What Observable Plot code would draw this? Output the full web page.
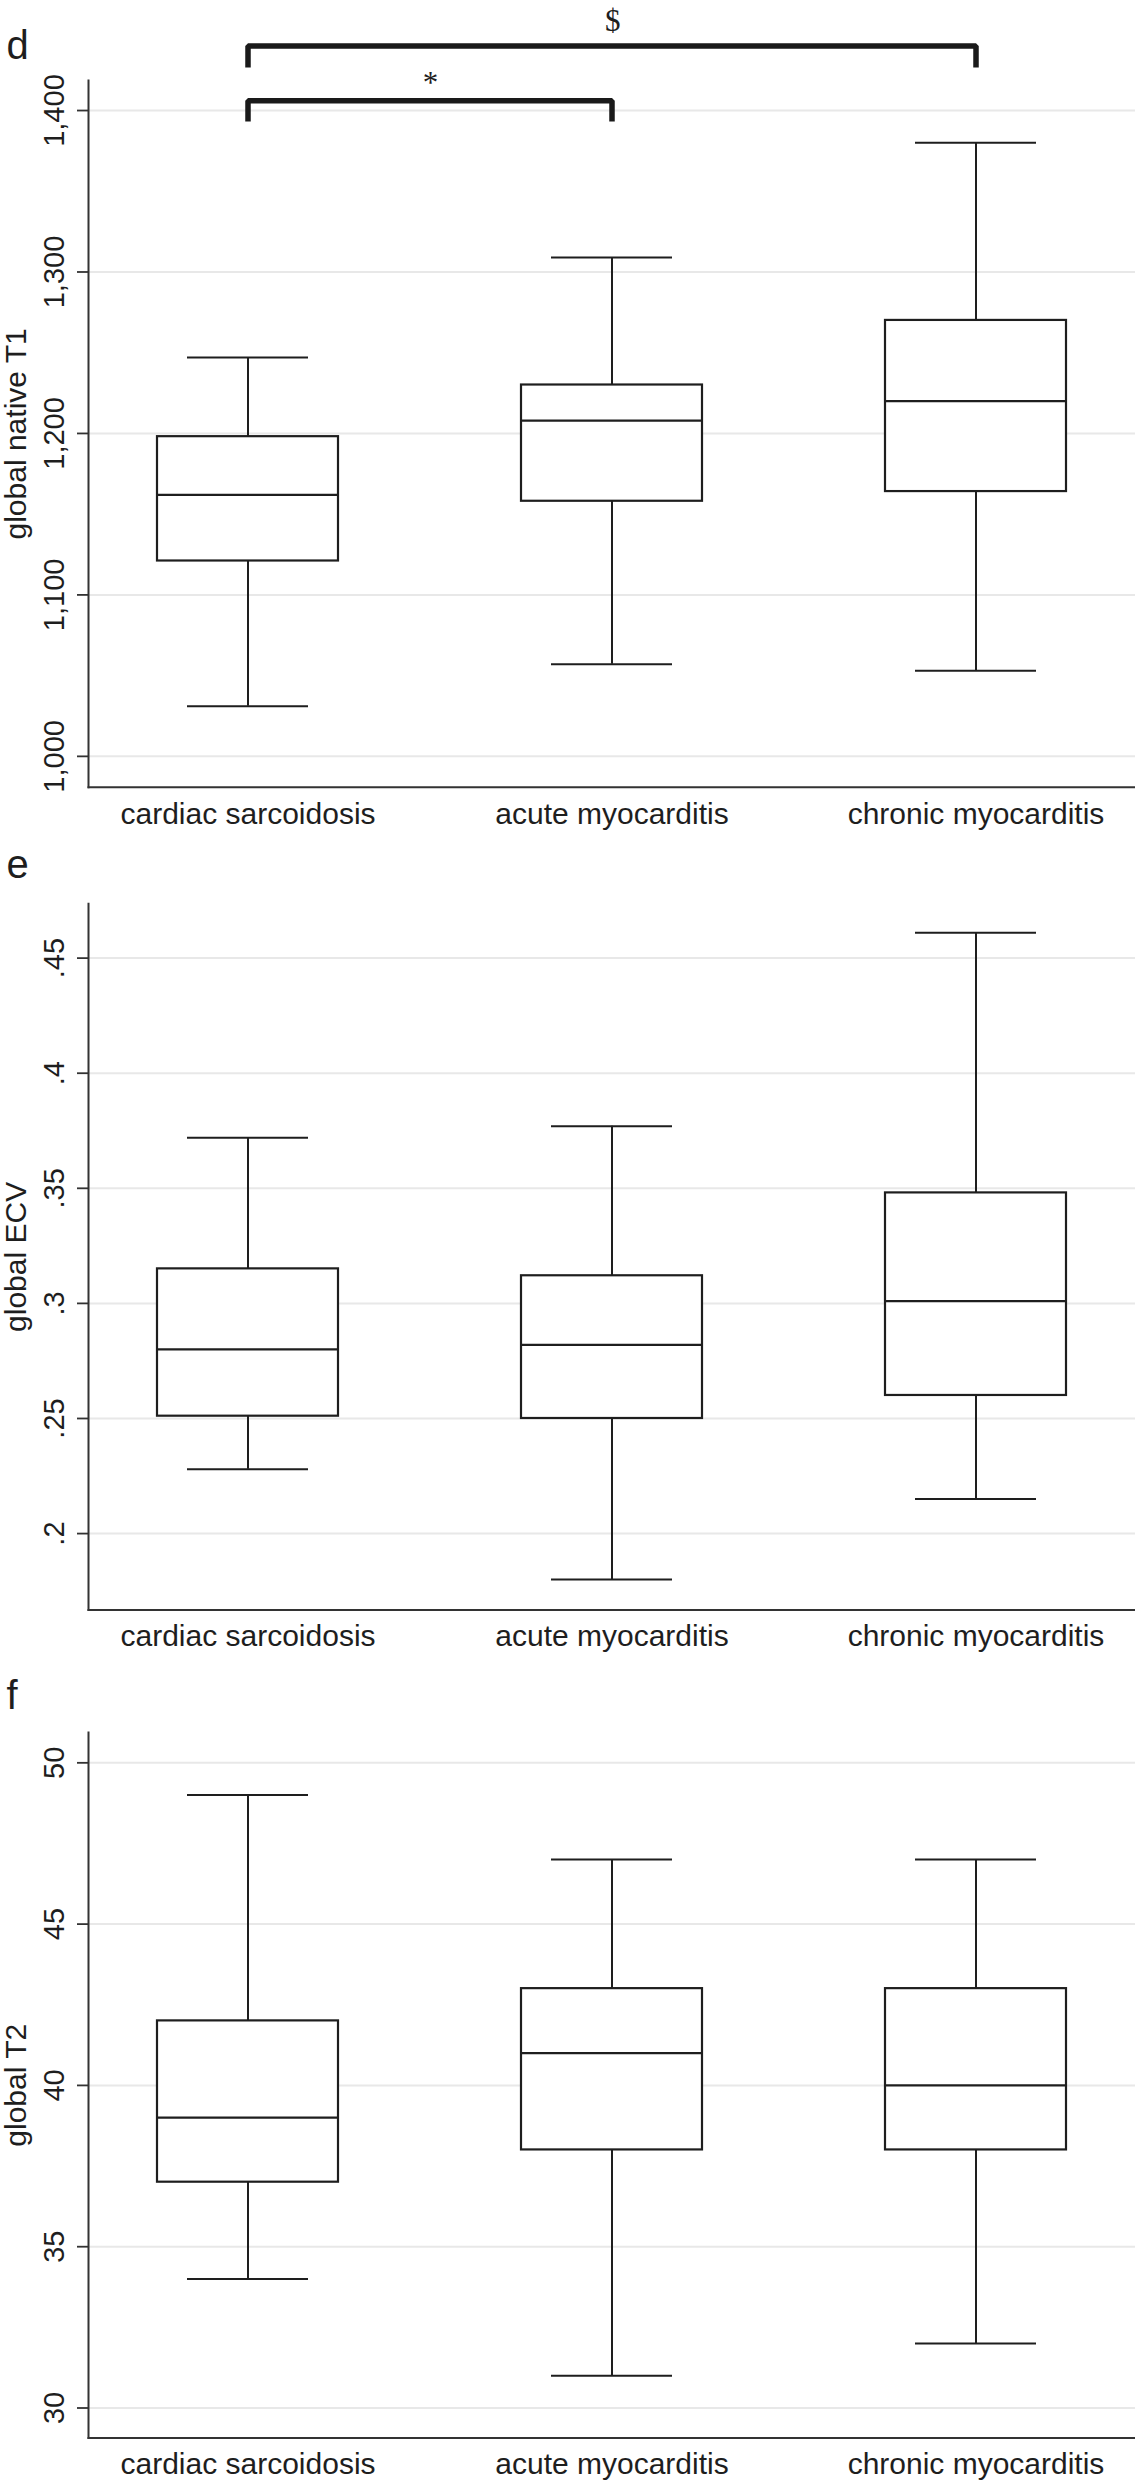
<!DOCTYPE html>
<html>
<head>
<meta charset="utf-8">
<script src="https://cdn.jsdelivr.net/npm/d3@7"></script>
<script src="https://cdn.jsdelivr.net/npm/@observablehq/plot@0.6"></script>
<style>
  html, body { margin: 0; padding: 0; background: #fff; }
  #fig { position: relative; width: 1135px; height: 2480px; overflow: hidden; background: #fff; }
  #fig svg { position: absolute; left: 0; }
</style>
</head>
<body>
<div id="fig"></div>
<script>
// ---------- data ----------
const categories = ["cardiac sarcoidosis", "acute myocarditis", "chronic myocarditis"];

// panel d: global native T1
const t1Low    = [1031, 1057, 1053];
const t1Q1     = [1121, 1158, 1164];
const t1Median = [1162, 1208, 1220];
const t1Q3     = [1198, 1230, 1270];
const t1High   = [1247, 1309, 1380];
const t1Ticks  = [1000, 1100, 1200, 1300, 1400];

// panel e: global ECV
const ecvLow    = [0.228, 0.180, 0.215];
const ecvQ1     = [0.251, 0.250, 0.260];
const ecvMedian = [0.280, 0.282, 0.301];
const ecvQ3     = [0.315, 0.312, 0.348];
const ecvHigh   = [0.372, 0.377, 0.461];
const ecvTicks  = [0.2, 0.25, 0.3, 0.35, 0.4, 0.45];

// panel f: global T2
const t2Low    = [34, 31, 32];
const t2Q1     = [37, 38, 38];
const t2Median = [39, 41, 40];
const t2Q3     = [42, 43, 43];
const t2High   = [49, 47, 47];
const t2Ticks  = [30, 35, 40, 45, 50];

// significance brackets (panel d)
const bracketFrom   = ["cardiac sarcoidosis", "cardiac sarcoidosis"];
const bracketTo     = ["chronic myocarditis", "acute myocarditis"];
const bracketTop    = [1440, 1406];
const bracketDrop   = [1426.6, 1393.2];
const bracketLabel  = ["$", "*"];
const bracketLabelY = [1449.2, 1411];

// ---------- layout ----------
const W = 1135, ML = 88, MR = 0;
const padInner = 0.502, padOuter = 0.186;
const step = (W - ML - MR) / (categories.length - padInner + 2 * padOuter);
const sans = "'Liberation Sans', Arial, Helvetica, sans-serif";
const ink = "#1e1e1e";

function panel(o) {
  const rows = categories.map((c, i) => ({
    cat: c, low: o.low[i], q1: o.q1[i], med: o.median[i], q3: o.q3[i], high: o.high[i]
  }));
  const marks = [
    Plot.gridY(o.ticks, {stroke: "#e8e8e8", strokeWidth: 2, strokeOpacity: 1}),
    Plot.ruleX(rows, {x: "cat", y1: "low", y2: "high", stroke: ink, strokeWidth: 2}),
    Plot.tickY(rows, {x: "cat", y: "low", stroke: ink, strokeWidth: 2, insetLeft: 30, insetRight: 30}),
    Plot.tickY(rows, {x: "cat", y: "high", stroke: ink, strokeWidth: 2, insetLeft: 30, insetRight: 30}),
    Plot.barY(rows, {x: "cat", y1: "q1", y2: "q3", fill: "white", stroke: ink, strokeWidth: 2.2}),
    Plot.tickY(rows, {x: "cat", y: "med", stroke: ink, strokeWidth: 2.2}),
    Plot.axisY(o.ticks, {
      tickFormat: o.format, tickSize: 11, tickPadding: 14, tickRotate: -90,
      fontSize: 29, label: null, stroke: "#333", strokeWidth: 1.8
    }),
    Plot.axisX({tickSize: 0, tickPadding: 15, fontSize: 30, label: null}),
    Plot.frame({anchor: "left", stroke: "#333", strokeWidth: 2}),
    Plot.frame({anchor: "bottom", stroke: "#333", strokeWidth: 2}),
    Plot.text([o.title], {
      text: d => d, frameAnchor: "left", rotate: -90, dx: -63,
      textAnchor: "middle", lineAnchor: "bottom", fontSize: 30
    }),
    Plot.text([o.letter], {
      text: d => d, frameAnchor: "top-left", dx: -82, dy: o.letterDy,
      textAnchor: "start", lineAnchor: "bottom", fontSize: 40
    })
  ];
  if (o.brackets) {
    const pts = [];
    bracketFrom.forEach((f, i) => {
      pts.push({z: i, x: f, y: bracketDrop[i]});
      pts.push({z: i, x: f, y: bracketTop[i]});
      pts.push({z: i, x: bracketTo[i], y: bracketTop[i]});
      pts.push({z: i, x: bracketTo[i], y: bracketDrop[i]});
    });
    marks.push(Plot.line(pts, {
      x: "x", y: "y", z: "z", stroke: "#1a1a1a", strokeWidth: 5.5,
      strokeLinejoin: "miter", strokeLinecap: "butt"
    }));
    bracketFrom.forEach((f, i) => {
      const span = categories.indexOf(bracketTo[i]) - categories.indexOf(f);
      marks.push(Plot.text([i], {
        x: () => f, y: () => bracketLabelY[i], text: () => bracketLabel[i],
        dx: span / 2 * step, textAnchor: "middle", lineAnchor: "bottom",
        fontFamily: "'Liberation Serif', 'Times New Roman', serif", fontSize: 31
      }));
    });
  }
  const svg = Plot.plot({
    width: W, height: o.height,
    marginLeft: ML, marginRight: MR, marginTop: o.marginTop, marginBottom: o.marginBottom,
    style: {fontFamily: sans, fontSize: "29px", color: ink, background: "transparent", overflow: "visible"},
    x: {type: "band", domain: categories, paddingInner: padInner, paddingOuter: padOuter},
    y: {domain: o.domain},
    marks
  });
  svg.style.top = o.top + "px";
  document.getElementById("fig").appendChild(svg);
}

panel({
  top: 0, height: 850, marginTop: 80, marginBottom: 63.3,
  domain: [980.9, 1418.6], ticks: t1Ticks, format: d3.format(","),
  low: t1Low, q1: t1Q1, median: t1Median, q3: t1Q3, high: t1High,
  title: "global native T1", letter: "d", letterDy: -22, brackets: true
});
panel({
  top: 850, height: 830, marginTop: 53.3, marginBottom: 70.5,
  domain: [0.1668, 0.4736], ticks: ecvTicks, format: d => String(d).replace(/^0/, ""),
  low: ecvLow, q1: ecvQ1, median: ecvMedian, q3: ecvQ3, high: ecvHigh,
  title: "global ECV", letter: "e", letterDy: -26.3
});
panel({
  top: 1680, height: 800, marginTop: 52, marginBottom: 42.5,
  domain: [29.07, 50.94], ticks: t2Ticks, format: d => String(d),
  low: t2Low, q1: t2Q1, median: t2Median, q3: t2Q3, high: t2High,
  title: "global T2", letter: "f", letterDy: -24
});
</script>
</body>
</html>
